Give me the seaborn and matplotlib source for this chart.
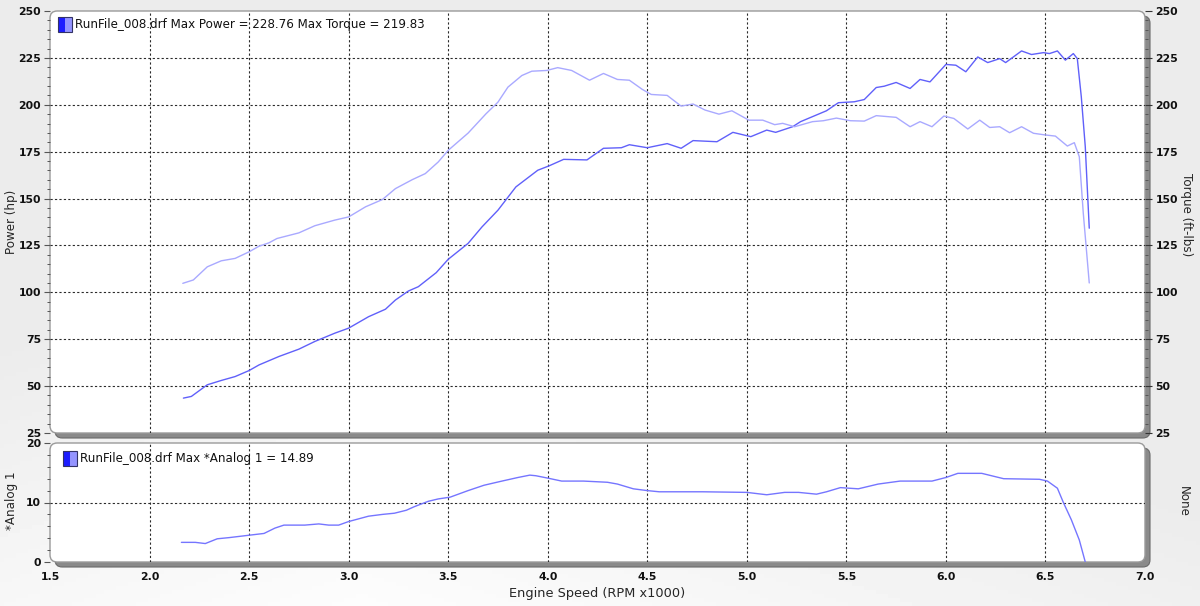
import numpy as np
import pandas as pd
import matplotlib
matplotlib.use('Agg')
import matplotlib.pyplot as plt
from matplotlib.patches import FancyBboxPatch, Rectangle
from matplotlib.ticker import MultipleLocator, FormatStrFormatter
import seaborn as sns

# ============================================================
# Data
# ============================================================
power_rpm = [2.17, 2.21, 2.29, 2.36, 2.43, 2.50, 2.55, 2.59, 2.65, 2.75,
             2.83, 2.93, 3.00, 3.10, 3.185, 3.235, 3.30, 3.35, 3.44, 3.50,
             3.60, 3.67, 3.75, 3.84, 3.95, 4.006, 4.08, 4.197, 4.28, 4.37,
             4.41, 4.50, 4.60, 4.67, 4.73, 4.85, 4.93, 5.02, 5.10, 5.145,
             5.23, 5.27, 5.40, 5.46, 5.54, 5.59, 5.65, 5.69, 5.75, 5.82,
             5.87, 5.92, 6.00, 6.05, 6.10, 6.16, 6.21, 6.27, 6.30, 6.38,
             6.43, 6.49, 6.52, 6.56, 6.60, 6.64, 6.66, 6.68, 6.70, 6.72]
power_hp = [43.6, 44.5, 50.7, 53.0, 55.1, 58.3, 61.3, 63.1, 65.8, 69.7,
            73.8, 78.2, 80.9, 87.0, 91.0, 95.9, 100.7, 103.0, 110.5, 117.6,
            126.1, 134.9, 143.8, 156.2, 165.1, 167.4, 170.9, 170.6, 176.8, 177.1,
            178.7, 177.1, 179.3, 176.8, 180.9, 180.3, 185.3, 183.0, 186.5, 185.3,
            188.3, 191.0, 196.8, 201.1, 201.6, 202.8, 209.2, 209.9, 211.9, 208.7,
            213.5, 212.2, 221.5, 221.1, 217.6, 225.5, 222.5, 224.6, 222.5, 228.7,
            226.8, 227.8, 227.3, 228.7, 223.8, 227.3, 224.6, 204.3, 177.7, 134.2]

torque_rpm = [2.167, 2.22, 2.29, 2.36, 2.43, 2.50, 2.55, 2.60, 2.64, 2.75,
              2.83, 2.93, 3.00, 3.085, 3.17, 3.235, 3.32, 3.385, 3.45, 3.50,
              3.60, 3.69, 3.75, 3.80, 3.87, 3.92, 3.995, 4.05, 4.12, 4.21,
              4.28, 4.35, 4.41, 4.475, 4.52, 4.60, 4.67, 4.73, 4.79, 4.86,
              4.925, 5.01, 5.08, 5.14, 5.18, 5.24, 5.33, 5.385, 5.45, 5.52,
              5.59, 5.65, 5.75, 5.82, 5.87, 5.93, 5.99, 6.04, 6.11, 6.17,
              6.22, 6.27, 6.32, 6.38, 6.44, 6.50, 6.55, 6.61, 6.645, 6.67,
              6.69, 6.72]
torque_ftlb = [104.8, 106.6, 113.6, 116.8, 118.1, 121.6, 124.6, 126.4, 128.7, 131.7,
               135.5, 138.5, 140.2, 145.6, 149.5, 155.3, 160.1, 163.3, 169.5, 175.7,
               184.9, 195.2, 201.4, 209.4, 215.6, 217.9, 218.3, 219.8, 218.3, 213.1,
               216.7, 213.5, 213.1, 208.2, 205.5, 205.0, 199.3, 200.4, 197.2, 195.0,
               196.8, 191.8, 191.8, 189.4, 190.1, 188.3, 191.0, 191.5, 192.9, 191.5,
               191.3, 194.2, 193.3, 188.3, 191.0, 188.3, 194.0, 192.7, 187.1, 191.8,
               187.9, 188.3, 185.1, 188.3, 184.8, 183.9, 183.3, 178.0, 179.8, 172.3,
               142.2, 105.0]

analog_rpm = [2.16, 2.23, 2.28, 2.34, 2.40, 2.45, 2.50, 2.575, 2.63, 2.675,
              2.78, 2.85, 2.90, 2.95, 3.00, 3.10, 3.17, 3.23, 3.29, 3.33,
              3.40, 3.45, 3.51, 3.60, 3.68, 3.77, 3.85, 3.91, 3.94, 4.00,
              4.07, 4.18, 4.30, 4.35, 4.43, 4.50, 4.56, 4.78, 5.00, 5.10,
              5.19, 5.26, 5.35, 5.40, 5.47, 5.56, 5.66, 5.77, 5.93, 6.00,
              6.06, 6.18, 6.29, 6.47, 6.51, 6.56, 6.59, 6.63, 6.67, 6.70]
analog_val = [3.3, 3.3, 3.1, 3.9, 4.1, 4.3, 4.5, 4.8, 5.7, 6.2,
              6.2, 6.4, 6.2, 6.2, 6.8, 7.7, 8.0, 8.2, 8.7, 9.3,
              10.2, 10.6, 10.9, 12.0, 12.9, 13.6, 14.2, 14.6, 14.5, 14.1,
              13.6, 13.6, 13.4, 13.1, 12.3, 12.0, 11.8, 11.8, 11.7, 11.3,
              11.7, 11.7, 11.4, 11.8, 12.5, 12.3, 13.1, 13.6, 13.6, 14.2,
              14.9, 14.9, 14.0, 13.9, 13.6, 12.4, 10.0, 7.1, 3.7, 0.0]

TOP_LEGEND = 'RunFile_008.drf Max Power = 228.76 Max Torque = 219.83'
BOT_LEGEND = 'RunFile_008.drf Max *Analog 1 = 14.89'

POWER_COLOR = '#6060fa'
TORQUE_COLOR = '#a9a9ff'
ANALOG_COLOR = '#7575ff'
GRID_COLOR = '#2a2a2a'

power = pd.DataFrame({'rpm': power_rpm, 'hp': power_hp})
torque = pd.DataFrame({'rpm': torque_rpm, 'ftlb': torque_ftlb})
analog = pd.DataFrame({'rpm': analog_rpm, 'val': analog_val})

sns.set_style('white')
plt.rcParams['font.family'] = ['DejaVu Sans']

W, H = 1200, 606
fig = plt.figure(figsize=(12, 6.06), dpi=100)

# background: light grey with a soft sheen at the lower left
bg = fig.add_axes([0, 0, 1, 1], zorder=-10)
xx, yy = np.meshgrid(np.linspace(0, 1, 300), np.linspace(0, 1, 150))
shade = 0.925 + 0.065 * np.clip(1 - yy * 1.6 - np.abs(xx - 0.3) * 1.1, 0, 1)
bg.imshow(shade, cmap='gray', vmin=0, vmax=1, origin='lower',
          extent=[0, 1, 0, 1], aspect='auto')
bg.set_axis_off()


def px(l, t, r, b):
    return [l / W, 1 - b / H, (r - l) / W, (b - t) / H]


def ftext(x, y, s, **kw):
    # text placed in picture pixels (from top-left)
    fig.text(x / W, 1 - y / H, s, **kw)


def panel(l, t, r, b):
    # grey shadow to the right/bottom, then the rounded white panel
    sh = FancyBboxPatch(((l + 5) / W, 1 - (b + 5) / H), (r - l) / W, (b - t) / H,
                        boxstyle='round,pad=0,rounding_size=0.006',
                        mutation_aspect=W / H, transform=fig.transFigure,
                        fc='#8a8a8a', ec='#6a6a6a', lw=0.8, zorder=-3)
    face = FancyBboxPatch((l / W, 1 - b / H), (r - l) / W, (b - t) / H,
                          boxstyle='round,pad=0,rounding_size=0.006',
                          mutation_aspect=W / H, transform=fig.transFigure,
                          fc='white', ec='#9a9a9a', lw=1.0, zorder=-2)
    fig.add_artist(sh)
    fig.add_artist(face)


def legend_box(x, y, text):
    fig.add_artist(Rectangle((x / W, 1 - (y + 15) / H), 7 / W, 15 / H,
                             transform=fig.transFigure, fc='#1c1cff', ec='none'))
    fig.add_artist(Rectangle(((x + 7) / W, 1 - (y + 15) / H), 7 / W, 15 / H,
                             transform=fig.transFigure, fc='#9494ff', ec='none'))
    fig.add_artist(Rectangle((x / W, 1 - (y + 15) / H), 14 / W, 15 / H,
                             transform=fig.transFigure, fc='none', ec='#333366', lw=0.8))
    ftext(x + 17, y + 7.5, text, fontsize=8.6, va='center', ha='left', color='#111111')


def style_axis(ax):
    ax.patch.set_visible(False)
    for s in ax.spines.values():
        s.set_visible(False)
    ax.tick_params(which='both', direction='out', color='#555555',
                   labelsize=7.8, labelcolor='#111111', pad=2.5)
    ax.tick_params(which='major', length=4, width=0.8)
    ax.tick_params(which='minor', length=2, width=0.7)
    for lab in ax.get_yticklabels() + ax.get_xticklabels():
        lab.set_fontweight('bold')


grid_kw = dict(color=GRID_COLOR, linestyle=(0, (2, 2)), linewidth=0.8, zorder=0.5)

# ============================================================
# Top panel: power / torque
# ============================================================
panel(50, 11, 1145, 433)
ax1 = fig.add_axes(px(50, 11, 1145, 433))
ax1.set_xlim(1.5, 7.0)
ax1.set_ylim(25, 250)
for xv in np.arange(2.0, 7.0, 0.5):
    ax1.axvline(xv, **grid_kw)
for yv in range(50, 250, 25):
    ax1.axhline(yv, **grid_kw)

sns.lineplot(data=power, x='rpm', y='hp', ax=ax1, sort=False, estimator=None,
             color=POWER_COLOR, linewidth=1.0, zorder=3)
ax1.set_xlabel('')
ax1.set_ylabel('')
ax1.xaxis.set_major_locator(MultipleLocator(0.5))
ax1.yaxis.set_major_locator(MultipleLocator(25))
ax1.yaxis.set_minor_locator(MultipleLocator(5))
style_axis(ax1)
ax1.tick_params(axis='x', which='both', length=0, labelbottom=False)

ax1r = ax1.twinx()
ax1r.set_ylim(25, 250)
sns.lineplot(data=torque, x='rpm', y='ftlb', ax=ax1r, sort=False, estimator=None,
             color=TORQUE_COLOR, linewidth=1.0, zorder=2)
ax1r.set_ylabel('')
ax1r.yaxis.set_major_locator(MultipleLocator(25))
ax1r.yaxis.set_minor_locator(MultipleLocator(5))
style_axis(ax1r)
ax1r.tick_params(axis='y', which='major', length=5, color='#333333')

legend_box(58, 17, TOP_LEGEND)
ftext(11, 222, 'Power (hp)', fontsize=8.6, rotation=90, ha='center', va='center')
ftext(1186, 215, 'Torque (ft-lbs)', fontsize=8.6, rotation=270, ha='center', va='center')

# ============================================================
# Bottom panel: analog channel
# ============================================================
panel(50, 443, 1145, 562)
ax2 = fig.add_axes(px(50, 443, 1145, 562))
ax2.set_xlim(1.5, 7.0)
ax2.set_ylim(0, 20)
for xv in np.arange(2.0, 7.0, 0.5):
    ax2.axvline(xv, **grid_kw)
ax2.axhline(10, **grid_kw)

sns.lineplot(data=analog, x='rpm', y='val', ax=ax2, sort=False, estimator=None,
             color=ANALOG_COLOR, linewidth=1.0, zorder=3)
ax2.set_xlabel('')
ax2.set_ylabel('')
ax2.xaxis.set_major_locator(MultipleLocator(0.5))
ax2.xaxis.set_minor_locator(MultipleLocator(0.1))
ax2.xaxis.set_major_formatter(FormatStrFormatter('%.1f'))
ax2.yaxis.set_major_locator(MultipleLocator(10))
ax2.yaxis.set_minor_locator(MultipleLocator(2))
style_axis(ax2)
ax2.tick_params(axis='x', which='major', length=5, color='#333333')

ax2r = ax2.twinx()
ax2r.set_ylim(0, 20)
ax2r.set_yticks([])
style_axis(ax2r)

legend_box(63, 451, BOT_LEGEND)
ftext(11, 501, '*Analog 1', fontsize=8.6, rotation=90, ha='center', va='center')
ftext(1183, 501, 'None', fontsize=8.6, rotation=270, ha='center', va='center')
ftext(597, 593, 'Engine Speed (RPM x1000)', fontsize=9.3, ha='center', va='center')

plt.savefig('out.png', dpi=100)
plt.close()
